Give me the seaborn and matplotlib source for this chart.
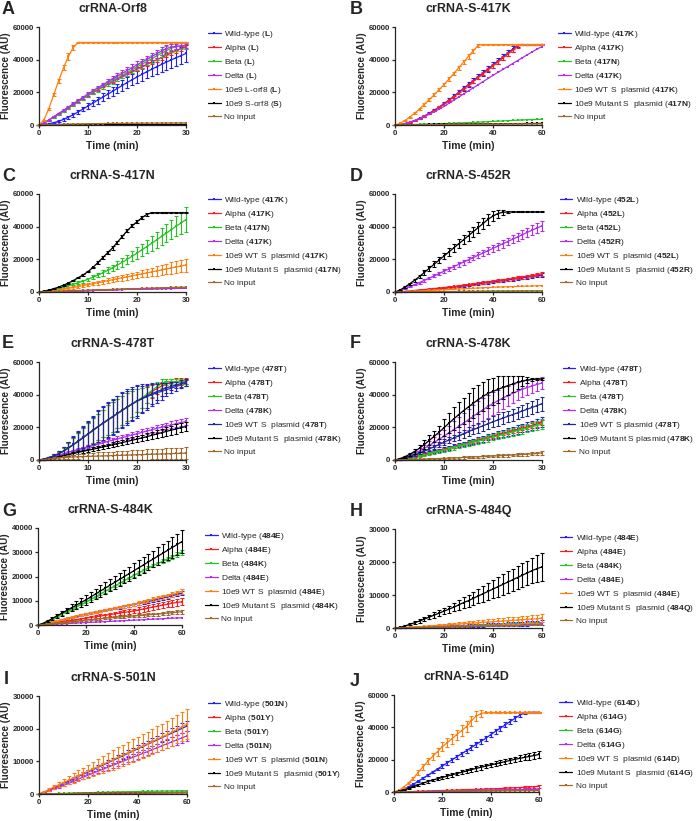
"""Curvas de fluorescencia (10 paneles crRNA) -> out.png"""
import matplotlib
matplotlib.use("Agg")
import matplotlib.pyplot as plt
import numpy as np
import seaborn as sns
from matplotlib.ticker import StrMethodFormatter

# ---------------------------------------------------------------- data
# times (min)
T30 = list(range(0, 31))
T60 = list(range(0, 61, 2))

# all fluorescence values below in thousands of AU (mean, SD)
# --- A: crRNA-Orf8
A_WT = [0, 0.2, 0.7, 1.4, 2.3, 3.4, 4.8, 6.3, 8.0, 9.8, 11.6, 13.4, 15.2, 17.0, 18.8, 20.6, 22.4, 24.2, 26.0, 27.7, 29.4, 31.0, 32.6, 34.1, 35.6, 37.1, 38.5, 39.9, 41.2, 42.5, 43.8]
A_WT_SD = [0, 0.1, 0.2, 0.3, 0.5, 0.7, 0.9, 1.1, 1.3, 1.5, 1.7, 1.9, 2.1, 2.3, 2.5, 2.7, 2.9, 3.1, 3.3, 3.5, 3.7, 3.9, 4.1, 4.3, 4.5, 4.6, 4.7, 4.8, 4.9, 5.0, 5.0]
A_ALPHA = [0, 1.2, 3.0, 4.9, 6.8, 8.7, 10.6, 12.5, 14.4, 16.2, 18.0, 19.8, 21.5, 23.2, 24.9, 26.5, 28.1, 29.7, 31.2, 32.7, 34.2, 35.7, 37.1, 38.5, 39.9, 41.3, 42.7, 44.1, 45.5, 46.8, 48.0]
A_ALPHA_SD = [0, 0.2, 0.3, 0.4, 0.5, 0.5, 0.6, 0.6, 0.7, 0.7, 0.8, 0.8, 0.9, 0.9, 1.0, 1.0, 1.0, 1.1, 1.1, 1.1, 1.2, 1.2, 1.2, 1.2, 1.3, 1.3, 1.3, 1.3, 1.3, 1.3, 1.3]
A_BETA = [0, 1.2, 3.0, 4.9, 6.8, 8.7, 10.6, 12.5, 14.4, 16.3, 18.2, 20.0, 21.8, 23.6, 25.3, 27.0, 28.7, 30.4, 32.1, 33.8, 35.5, 37.2, 38.9, 40.6, 42.3, 44.0, 45.6, 47.0, 48.0, 48.5, 48.6]
A_BETA_SD = [0, 0.2, 0.3, 0.4, 0.5, 0.6, 0.7, 0.8, 0.9, 1.0, 1.1, 1.2, 1.3, 1.4, 1.5, 1.6, 1.7, 1.8, 1.9, 2.0, 2.1, 2.2, 2.3, 2.4, 2.5, 2.6, 2.6, 2.5, 2.4, 2.2, 2.0]
A_DELTA = [0, 1.2, 3.0, 5.0, 7.0, 9.0, 11.0, 13.0, 15.0, 17.0, 19.0, 20.9, 22.8, 24.6, 26.4, 28.2, 30.0, 31.7, 33.4, 35.1, 36.8, 38.5, 40.2, 41.9, 43.6, 45.3, 46.8, 47.8, 48.2, 48.4, 48.5]
A_DELTA_SD = [0, 0.2, 0.3, 0.4, 0.5, 0.6, 0.7, 0.8, 0.9, 1.0, 1.1, 1.2, 1.3, 1.4, 1.5, 1.6, 1.7, 1.8, 1.9, 2.0, 2.1, 2.2, 2.3, 2.3, 2.3, 2.2, 2.0, 1.8, 1.6, 1.5, 1.4]
A_LORF = [0, 3.0, 10.0, 18.5, 27.0, 35.0, 42.0, 47.5, 50.5, 50.5, 50.5, 50.5, 50.5, 50.5, 50.5, 50.5, 50.5, 50.5, 50.5, 50.5, 50.5, 50.5, 50.5, 50.5, 50.5, 50.5, 50.5, 50.5, 50.5, 50.5, 50.5]
A_LORF_SD = [0, 0.3, 0.6, 0.8, 1.0, 1.5, 2.0, 1.5, 0.5, 0.3, 0.3, 0.3, 0.3, 0.3, 0.3, 0.3, 0.3, 0.3, 0.3, 0.3, 0.3, 0.3, 0.3, 0.3, 0.3, 0.3, 0.3, 0.3, 0.3, 0.3, 0.3]
A_SORF = [0, 0.05, 0.1, 0.1, 0.1, 0.15, 0.15, 0.15, 0.2, 0.2, 0.2, 0.2, 0.2, 0.25, 0.25, 0.25, 0.25, 0.25, 0.3, 0.3, 0.3, 0.3, 0.3, 0.3, 0.3, 0.35, 0.35, 0.35, 0.35, 0.35, 0.35]
A_NONE = [0, 0.1, 0.2, 0.3, 0.4, 0.5, 0.55, 0.6, 0.65, 0.7, 0.75, 0.8, 0.85, 0.9, 0.95, 1.0, 1.0, 1.05, 1.05, 1.1, 1.1, 1.15, 1.15, 1.2, 1.2, 1.2, 1.25, 1.25, 1.25, 1.3, 1.3]

# --- B: crRNA-S-417K
B_WT = [0, 0.3, 0.8, 1.6, 2.7, 4.0, 5.5, 7.2, 9.0, 11.0, 13.0, 15.3, 17.6, 20.0, 22.4, 24.8, 27.2, 29.6, 32.0, 34.4, 36.8, 39.2, 41.6, 44.0, 46.4, 48.6, 49.2, 49.2, 49.2, 49.2, 49.2]
B_WT_SD = [0, 0.1, 0.1, 0.2, 0.3, 0.4, 0.5, 0.6, 0.7, 0.8, 0.9, 1.0, 1.1, 1.2, 1.3, 1.4, 1.5, 1.6, 1.7, 1.8, 1.9, 2.0, 2.0, 2.0, 1.8, 1.0, 0.4, 0.3, 0.3, 0.3, 0.3]
B_ALPHA = [0, 0.3, 0.8, 1.6, 2.6, 3.9, 5.4, 7.0, 8.8, 10.8, 12.8, 15.0, 17.3, 19.6, 22.0, 24.4, 26.8, 29.2, 31.5, 33.8, 36.2, 38.6, 41.0, 43.4, 45.8, 48.2, 49.2, 49.2, 49.2, 49.2, 49.2]
B_ALPHA_SD = [0, 0.1, 0.1, 0.2, 0.2, 0.3, 0.3, 0.4, 0.4, 0.5, 0.5, 0.6, 0.6, 0.7, 0.7, 0.8, 0.8, 0.9, 0.9, 1.0, 1.0, 1.0, 1.0, 1.0, 1.0, 0.8, 0.3, 0.3, 0.3, 0.3, 0.3]
B_BETA = [0, 0.05, 0.1, 0.2, 0.3, 0.4, 0.5, 0.6, 0.7, 0.8, 0.9, 1.0, 1.1, 1.2, 1.3, 1.45, 1.6, 1.75, 1.9, 2.05, 2.2, 2.35, 2.5, 2.65, 2.8, 2.95, 3.1, 3.2, 3.3, 3.4, 3.5]
B_DELTA = [0, 0.3, 0.9, 1.7, 2.7, 3.9, 5.2, 6.6, 8.1, 9.7, 11.4, 13.3, 15.2, 17.1, 19.0, 20.9, 22.8, 24.7, 26.6, 28.5, 30.4, 32.2, 34.0, 35.8, 37.6, 39.4, 41.2, 43.0, 44.8, 46.5, 48.0]
B_WTP = [0, 1.0, 2.7, 4.8, 7.2, 9.8, 12.6, 15.5, 18.5, 21.6, 24.8, 28.1, 31.5, 35.0, 38.5, 42.0, 45.5, 48.8, 49.2, 49.2, 49.2, 49.2, 49.2, 49.2, 49.2, 49.2, 49.2, 49.2, 49.2, 49.2, 49.2]
B_WTP_SD = [0, 0.2, 0.3, 0.4, 0.5, 0.6, 0.7, 0.8, 0.9, 1.0, 1.0, 1.1, 1.1, 1.2, 1.2, 1.3, 1.3, 1.0, 0.3, 0.3, 0.3, 0.3, 0.3, 0.3, 0.3, 0.3, 0.3, 0.3, 0.3, 0.3, 0.3]
B_MUTP = [0, 0.05, 0.1, 0.15, 0.2, 0.25, 0.3, 0.35, 0.4, 0.45, 0.5, 0.55, 0.6, 0.62, 0.65, 0.68, 0.7, 0.72, 0.74, 0.76, 0.78, 0.8, 0.82, 0.84, 0.86, 0.88, 0.9, 0.92, 0.94, 0.96, 0.98]
B_NONE = [0, 0.05, 0.1, 0.12, 0.15, 0.18, 0.2, 0.22, 0.25, 0.28, 0.3, 0.32, 0.35, 0.38, 0.4, 0.42, 0.44, 0.46, 0.48, 0.5, 0.52, 0.54, 0.56, 0.58, 0.6, 0.62, 0.64, 0.66, 0.68, 0.7, 0.72]

# --- C: crRNA-S-417N
C_WT = [0, 0.05, 0.1, 0.2, 0.3, 0.4, 0.5, 0.6, 0.7, 0.8, 0.9, 1.0, 1.1, 1.2, 1.3, 1.4, 1.5, 1.6, 1.7, 1.8, 1.9, 2.0, 2.05, 2.1, 2.15, 2.2, 2.25, 2.3, 2.35, 2.4, 2.5]
C_ALPHA = [0, 0.05, 0.1, 0.15, 0.25, 0.35, 0.45, 0.55, 0.65, 0.75, 0.85, 0.95, 1.05, 1.15, 1.25, 1.35, 1.45, 1.55, 1.65, 1.75, 1.85, 1.9, 1.95, 2.0, 2.05, 2.1, 2.15, 2.2, 2.25, 2.3, 2.35]
C_BETA = [0, 0.3, 0.8, 1.4, 2.1, 2.9, 3.8, 4.7, 5.7, 6.7, 7.8, 9.0, 10.3, 11.7, 13.2, 14.8, 16.5, 18.2, 20.0, 21.9, 23.8, 25.8, 27.8, 29.8, 31.9, 34.0, 36.1, 38.2, 40.3, 42.3, 44.3]
C_BETA_SD = [0, 0.1, 0.2, 0.3, 0.4, 0.5, 0.6, 0.7, 0.8, 0.9, 1.0, 1.2, 1.4, 1.6, 1.8, 2.0, 2.3, 2.6, 2.9, 3.2, 3.5, 3.8, 4.1, 4.4, 4.7, 5.0, 5.4, 5.8, 6.2, 6.8, 7.5]
C_DELTA = [0, 0.05, 0.1, 0.15, 0.2, 0.3, 0.4, 0.5, 0.6, 0.7, 0.8, 0.9, 1.0, 1.1, 1.2, 1.3, 1.4, 1.5, 1.6, 1.7, 1.75, 1.8, 1.85, 1.9, 1.95, 2.0, 2.05, 2.1, 2.15, 2.2, 2.25]
C_WTP = [0, 0.2, 0.5, 0.9, 1.3, 1.8, 2.3, 2.8, 3.3, 3.9, 4.5, 5.1, 5.7, 6.3, 6.9, 7.5, 8.1, 8.7, 9.3, 9.9, 10.5, 11.1, 11.7, 12.3, 12.9, 13.5, 14.1, 14.7, 15.3, 15.9, 16.5]
C_WTP_SD = [0, 0.1, 0.2, 0.3, 0.4, 0.5, 0.6, 0.7, 0.8, 0.9, 1.0, 1.1, 1.2, 1.3, 1.4, 1.5, 1.6, 1.7, 1.8, 1.9, 2.0, 2.2, 2.4, 2.6, 2.8, 3.0, 3.2, 3.4, 3.6, 3.8, 4.0]
C_MUTP = [0, 0.5, 1.2, 2.0, 3.0, 4.2, 5.5, 7.0, 8.7, 10.5, 12.5, 15.0, 18.0, 21.0, 24.0, 27.0, 30.5, 34.0, 37.5, 40.5, 43.0, 45.5, 47.5, 48.5, 48.5, 48.5, 48.5, 48.5, 48.5, 48.5, 48.5]
C_MUTP_SD = [0, 0.1, 0.1, 0.2, 0.2, 0.3, 0.3, 0.4, 0.4, 0.5, 0.5, 0.6, 0.7, 0.8, 0.9, 1.0, 1.0, 1.0, 1.0, 1.0, 1.0, 0.9, 0.7, 0.4, 0.2, 0.2, 0.2, 0.2, 0.2, 0.2, 0.2]
C_NONE = [0, 0.1, 0.2, 0.3, 0.45, 0.6, 0.7, 0.8, 0.9, 1.0, 1.1, 1.2, 1.3, 1.4, 1.5, 1.6, 1.7, 1.8, 1.9, 2.0, 2.1, 2.2, 2.3, 2.4, 2.5, 2.6, 2.7, 2.8, 2.85, 2.9, 3.0]

# --- D: crRNA-S-452R
D_WT = [0, 0.1, 0.3, 0.5, 0.8, 1.0, 1.3, 1.6, 1.9, 2.2, 2.5, 2.8, 3.1, 3.4, 3.8, 4.2, 4.6, 5.0, 5.4, 5.8, 6.2, 6.6, 7.0, 7.4, 7.8, 8.2, 8.7, 9.1, 9.5, 10.0, 10.4]
D_WT_SD = [0, 0.05, 0.1, 0.1, 0.15, 0.2, 0.2, 0.25, 0.3, 0.3, 0.35, 0.4, 0.4, 0.45, 0.5, 0.5, 0.55, 0.6, 0.6, 0.65, 0.7, 0.7, 0.75, 0.8, 0.8, 0.85, 0.9, 0.9, 0.95, 1.0, 1.0]
D_ALPHA = [0, 0.1, 0.3, 0.6, 0.9, 1.2, 1.5, 1.8, 2.1, 2.4, 2.7, 3.0, 3.4, 3.8, 4.2, 4.6, 5.0, 5.4, 5.8, 6.2, 6.6, 7.0, 7.4, 7.8, 8.2, 8.6, 9.1, 9.6, 10.0, 10.5, 11.0]
D_ALPHA_SD = [0, 0.05, 0.1, 0.15, 0.2, 0.2, 0.25, 0.3, 0.3, 0.35, 0.4, 0.4, 0.45, 0.5, 0.5, 0.55, 0.6, 0.6, 0.65, 0.7, 0.7, 0.75, 0.8, 0.8, 0.85, 0.9, 0.9, 0.95, 1.0, 1.0, 1.1]
D_BETA = [0, 0.02, 0.05, 0.08, 0.1, 0.12, 0.15, 0.18, 0.2, 0.22, 0.25, 0.28, 0.3, 0.32, 0.35, 0.38, 0.4, 0.42, 0.45, 0.48, 0.5, 0.52, 0.55, 0.58, 0.6, 0.62, 0.65, 0.68, 0.7, 0.72, 0.75]
D_DELTA = [0, 0.8, 2.0, 3.2, 4.5, 5.8, 7.1, 8.5, 9.9, 11.3, 12.7, 14.1, 15.5, 16.9, 18.3, 19.7, 21.1, 22.5, 23.9, 25.3, 26.7, 28.1, 29.5, 30.9, 32.3, 33.7, 35.1, 36.5, 37.9, 39.2, 40.5]
D_DELTA_SD = [0, 0.2, 0.3, 0.4, 0.5, 0.6, 0.7, 0.8, 0.9, 1.0, 1.1, 1.2, 1.3, 1.4, 1.5, 1.6, 1.7, 1.8, 1.9, 2.0, 2.1, 2.2, 2.3, 2.4, 2.5, 2.6, 2.7, 2.8, 2.9, 3.0, 3.1]
D_WTP = [0, 0.1, 0.2, 0.35, 0.5, 0.65, 0.8, 0.95, 1.1, 1.25, 1.4, 1.55, 1.7, 1.85, 2.0, 2.15, 2.3, 2.45, 2.6, 2.75, 2.9, 3.0, 3.1, 3.2, 3.3, 3.4, 3.5, 3.6, 3.7, 3.8, 3.9]
D_MUTP = [0, 1.2, 3.0, 5.0, 7.2, 9.5, 12.0, 14.5, 17.0, 19.5, 22.0, 24.5, 27.0, 29.5, 32.0, 34.5, 37.0, 39.5, 42.0, 44.5, 46.5, 48.0, 48.8, 49.0, 49.0, 49.0, 49.0, 49.0, 49.0, 49.0, 49.0]
D_MUTP_SD = [0, 0.3, 0.5, 0.7, 0.9, 1.1, 1.3, 1.5, 1.7, 1.9, 2.1, 2.3, 2.5, 2.7, 2.9, 3.0, 3.1, 3.2, 3.2, 3.2, 3.0, 2.5, 1.5, 0.6, 0.3, 0.3, 0.3, 0.3, 0.3, 0.3, 0.3]
D_NONE = [0, 0.02, 0.05, 0.08, 0.1, 0.12, 0.15, 0.18, 0.2, 0.22, 0.25, 0.27, 0.3, 0.32, 0.34, 0.36, 0.38, 0.4, 0.42, 0.44, 0.46, 0.48, 0.5, 0.52, 0.54, 0.56, 0.58, 0.6, 0.62, 0.64, 0.66]

# --- E: crRNA-S-478T
E_WT = [0, 0.5, 1.5, 2.5, 3.8, 5.5, 7.5, 9.5, 11.5, 13.8, 16.0, 18.2, 20.4, 22.4, 24.4, 26.4, 28.4, 30.4, 32.4, 34.3, 36.0, 37.5, 38.8, 40.0, 41.0, 42.0, 43.0, 44.0, 45.0, 46.0, 47.0]
E_WT_SD = [0, 0.2, 0.5, 1.0, 1.5, 2.5, 3.5, 5.0, 6.0, 7.0, 8.0, 9.0, 10.0, 10.5, 11.0, 11.0, 11.0, 11.0, 11.0, 10.5, 10.0, 9.0, 8.0, 7.0, 6.0, 5.0, 4.0, 3.0, 2.5, 2.0, 2.0]
E_ALPHA = [0, 0.5, 1.4, 2.5, 3.8, 5.4, 7.4, 9.4, 11.5, 13.7, 15.9, 18.1, 20.3, 22.4, 24.4, 26.4, 28.4, 30.4, 32.4, 34.4, 36.3, 37.8, 39.8, 41.8, 43.6, 45.2, 46.5, 47.5, 48.0, 48.2, 48.3]
E_ALPHA_SD = [0, 0.2, 0.4, 0.8, 1.2, 2.0, 3.0, 4.0, 5.0, 6.0, 7.0, 7.5, 8.0, 8.5, 9.0, 9.0, 9.0, 9.0, 8.5, 8.0, 7.0, 6.0, 5.0, 4.0, 3.0, 2.5, 2.0, 2.0, 2.0, 2.0, 2.0]
E_BETA = [0, 0.5, 1.4, 2.5, 3.8, 5.4, 7.4, 9.4, 11.5, 13.7, 15.9, 18.1, 20.3, 22.4, 24.4, 26.4, 28.4, 30.4, 32.4, 34.4, 36.4, 38.0, 40.2, 42.5, 44.8, 46.8, 47.8, 48.0, 48.0, 48.0, 48.0]
E_BETA_SD = [0, 0.2, 0.4, 0.8, 1.2, 2.0, 3.0, 4.0, 5.0, 6.0, 7.0, 7.5, 8.0, 8.5, 9.0, 9.0, 9.0, 9.0, 8.5, 8.0, 7.0, 6.0, 5.0, 4.0, 3.0, 2.5, 2.0, 1.5, 1.5, 1.5, 1.5]
E_DELTA = [0, 0.5, 1.2, 2.0, 2.9, 3.8, 4.7, 5.6, 6.5, 7.3, 8.1, 8.9, 9.7, 10.5, 11.3, 12.1, 12.9, 13.7, 14.5, 15.3, 16.1, 16.9, 17.7, 18.5, 19.3, 20.1, 20.8, 21.5, 22.2, 22.9, 23.6]
E_DELTA_SD = [0, 0.1, 0.2, 0.3, 0.4, 0.5, 0.6, 0.7, 0.8, 0.9, 1.0, 1.1, 1.2, 1.3, 1.4, 1.5, 1.5, 1.6, 1.6, 1.7, 1.7, 1.8, 1.8, 1.9, 1.9, 2.0, 2.0, 2.1, 2.1, 2.2, 2.2]
E_WTP = [0, 0.5, 1.4, 2.5, 3.8, 5.4, 7.3, 9.4, 11.5, 13.7, 15.9, 18.1, 20.3, 22.4, 24.5, 26.5, 28.5, 30.5, 32.4, 34.2, 36.0, 37.6, 39.1, 40.5, 41.8, 43.0, 44.1, 45.1, 46.0, 46.8, 47.5]
E_WTP_SD = [0, 0.2, 0.5, 1.0, 1.5, 2.5, 3.5, 4.5, 5.5, 6.5, 7.5, 8.5, 9.5, 10.0, 10.5, 10.5, 10.5, 10.5, 10.0, 9.5, 9.0, 8.0, 7.0, 6.0, 5.0, 4.0, 3.0, 2.5, 2.0, 2.0, 2.0]
E_MUTP = [0, 0.3, 0.8, 1.4, 2.0, 2.7, 3.3, 4.0, 4.7, 5.3, 6.0, 6.6, 7.3, 8.0, 8.6, 9.3, 10.0, 10.7, 11.4, 12.1, 12.8, 13.5, 14.3, 15.1, 15.9, 16.7, 17.5, 18.3, 19.0, 19.8, 20.5]
E_MUTP_SD = [0, 0.1, 0.2, 0.3, 0.4, 0.5, 0.6, 0.7, 0.8, 0.9, 1.0, 1.1, 1.2, 1.3, 1.4, 1.5, 1.6, 1.7, 1.8, 1.9, 2.0, 2.1, 2.2, 2.3, 2.4, 2.5, 2.6, 2.7, 2.8, 2.9, 3.0]
E_NONE = [0, 0.3, 0.7, 1.0, 1.3, 1.5, 1.7, 1.9, 2.0, 2.1, 2.2, 2.3, 2.4, 2.5, 2.6, 2.7, 2.8, 2.9, 3.0, 3.1, 3.2, 3.3, 3.4, 3.5, 3.6, 3.7, 3.8, 3.9, 4.0, 4.1, 4.2]
E_NONE_SD = [0, 0.2, 0.4, 0.6, 0.8, 1.0, 1.2, 1.4, 1.6, 1.8, 2.0, 2.1, 2.2, 2.3, 2.4, 2.5, 2.6, 2.7, 2.8, 2.9, 3.0, 3.0, 3.1, 3.1, 3.2, 3.2, 3.3, 3.3, 3.4, 3.4, 3.5]

# --- F: crRNA-S-478K
F_WT = [0, 0.3, 0.8, 1.4, 2.1, 2.8, 3.5, 4.3, 5.1, 5.9, 6.7, 7.5, 8.3, 9.1, 9.9, 10.7, 11.5, 12.3, 13.1, 13.9, 14.7, 15.5, 16.3, 17.1, 17.9, 18.7, 19.5, 20.3, 21.1, 22.3, 23.5]
F_WT_SD = [0, 0.1, 0.2, 0.3, 0.4, 0.5, 0.6, 0.7, 0.8, 0.9, 1.0, 1.1, 1.2, 1.3, 1.4, 1.5, 1.6, 1.7, 1.8, 1.9, 2.0, 2.1, 2.2, 2.3, 2.4, 2.5, 2.6, 2.7, 2.8, 2.9, 3.0]
F_ALPHA = [0, 0.3, 0.8, 1.4, 2.0, 2.7, 3.4, 4.2, 5.0, 5.8, 6.6, 7.4, 8.2, 9.0, 9.8, 10.6, 11.4, 12.2, 13.0, 13.8, 14.6, 15.4, 16.2, 17.0, 17.8, 18.6, 19.4, 20.2, 21.0, 22.0, 23.0]
F_ALPHA_SD = [0, 0.1, 0.1, 0.2, 0.2, 0.3, 0.3, 0.4, 0.4, 0.5, 0.5, 0.6, 0.6, 0.7, 0.7, 0.8, 0.8, 0.9, 0.9, 1.0, 1.0, 1.1, 1.1, 1.2, 1.2, 1.3, 1.3, 1.4, 1.4, 1.5, 1.5]
F_BETA = [0, 0.3, 0.7, 1.2, 1.8, 2.5, 3.2, 3.9, 4.6, 5.3, 6.0, 6.8, 7.6, 8.4, 9.2, 10.0, 10.8, 11.6, 12.4, 13.2, 14.0, 14.8, 15.6, 16.4, 17.2, 18.0, 18.8, 19.6, 20.4, 21.2, 22.0]
F_BETA_SD = [0, 0.1, 0.2, 0.3, 0.4, 0.5, 0.6, 0.7, 0.8, 0.9, 1.0, 1.1, 1.2, 1.3, 1.4, 1.5, 1.6, 1.7, 1.8, 1.9, 2.0, 2.1, 2.2, 2.3, 2.4, 2.5, 2.6, 2.7, 2.8, 2.9, 3.0]
F_DELTA = [0, 0.6, 1.5, 2.6, 4.0, 5.5, 7.2, 9.0, 10.8, 12.7, 14.6, 16.6, 18.6, 20.6, 22.6, 24.7, 26.8, 28.9, 30.9, 32.8, 34.6, 36.3, 37.9, 39.4, 40.8, 42.1, 43.3, 44.4, 45.4, 46.3, 47.1]
F_DELTA_SD = [0, 0.3, 0.6, 1.0, 1.4, 1.8, 2.2, 2.6, 3.0, 3.5, 4.0, 4.5, 5.0, 5.5, 6.0, 6.5, 7.0, 7.0, 7.0, 7.0, 7.0, 6.8, 6.5, 6.2, 5.8, 5.4, 5.0, 4.6, 4.2, 3.8, 3.5]
F_WTP = [0, 0.5, 1.3, 2.2, 3.2, 4.3, 5.5, 6.8, 8.1, 9.5, 10.9, 12.2, 13.5, 14.8, 16.1, 17.4, 18.6, 19.8, 21.0, 22.2, 23.4, 24.5, 25.6, 26.7, 27.8, 28.9, 30.0, 31.1, 32.2, 33.3, 34.5]
F_WTP_SD = [0, 0.1, 0.2, 0.3, 0.5, 0.7, 0.9, 1.1, 1.3, 1.5, 1.7, 1.9, 2.1, 2.3, 2.5, 2.7, 2.9, 3.0, 3.1, 3.2, 3.3, 3.4, 3.5, 3.6, 3.7, 3.8, 3.9, 4.0, 4.1, 4.2, 4.3]
F_MUTP = [0, 0.8, 2.0, 3.5, 5.2, 7.2, 9.5, 12.0, 14.5, 17.0, 19.8, 22.5, 25.2, 27.8, 30.2, 32.5, 34.8, 37.0, 39.0, 40.8, 42.0, 43.2, 44.4, 45.5, 46.5, 47.5, 48.3, 49.0, 49.3, 49.5, 49.5]
F_MUTP_SD = [0, 0.3, 0.6, 1.0, 1.5, 2.0, 2.5, 3.0, 3.5, 4.0, 5.0, 6.0, 7.0, 7.5, 8.0, 8.5, 9.0, 9.0, 9.0, 8.8, 8.5, 8.0, 7.0, 6.0, 5.0, 4.0, 3.0, 2.0, 1.0, 0.8, 0.8]
F_NONE = [0, 0.1, 0.2, 0.3, 0.4, 0.5, 0.6, 0.7, 0.8, 0.9, 1.0, 1.1, 1.25, 1.4, 1.55, 1.7, 1.85, 2.0, 2.15, 2.3, 2.45, 2.6, 2.75, 2.9, 3.05, 3.2, 3.4, 3.6, 3.8, 4.0, 4.3]
F_NONE_SD = [0, 0.05, 0.1, 0.15, 0.2, 0.25, 0.3, 0.35, 0.4, 0.45, 0.5, 0.55, 0.6, 0.6, 0.65, 0.65, 0.7, 0.7, 0.75, 0.75, 0.8, 0.8, 0.85, 0.85, 0.9, 0.9, 0.95, 0.95, 1.0, 1.0, 1.0]

# --- G: crRNA-S-484K
G_WT = [0, 0.3, 0.7, 1.1, 1.6, 2.1, 2.6, 3.1, 3.6, 4.1, 4.5, 4.9, 5.3, 5.7, 6.1, 6.5, 6.9, 7.3, 7.7, 8.1, 8.5, 8.9, 9.3, 9.7, 10.1, 10.6, 11.1, 11.6, 12.1, 12.6, 13.1]
G_WT_SD = [0, 0.05, 0.1, 0.1, 0.15, 0.2, 0.2, 0.25, 0.3, 0.3, 0.35, 0.4, 0.4, 0.45, 0.5, 0.5, 0.5, 0.55, 0.55, 0.6, 0.6, 0.6, 0.65, 0.65, 0.7, 0.7, 0.7, 0.75, 0.75, 0.8, 0.8]
G_ALPHA = [0, 0.15, 0.4, 0.7, 1.0, 1.3, 1.6, 1.9, 2.2, 2.5, 2.8, 3.1, 3.4, 3.7, 4.0, 4.3, 4.6, 4.9, 5.2, 5.5, 5.8, 6.2, 6.6, 7.0, 7.4, 7.8, 8.2, 8.6, 9.0, 9.3, 9.6]
G_ALPHA_SD = [0, 0.05, 0.1, 0.15, 0.2, 0.25, 0.3, 0.35, 0.4, 0.45, 0.5, 0.55, 0.6, 0.65, 0.7, 0.75, 0.8, 0.85, 0.9, 0.95, 1.0, 1.05, 1.1, 1.15, 1.2, 1.25, 1.3, 1.35, 1.4, 1.45, 1.5]
G_BETA = [0, 0.6, 1.5, 2.5, 3.5, 4.5, 5.5, 6.5, 7.5, 8.5, 9.5, 10.6, 11.7, 12.8, 13.9, 15.0, 16.1, 17.2, 18.3, 19.4, 20.5, 21.5, 22.5, 23.5, 24.5, 25.4, 26.3, 27.2, 28.1, 29.0, 30.0]
G_BETA_SD = [0, 0.05, 0.1, 0.15, 0.2, 0.25, 0.3, 0.3, 0.35, 0.35, 0.4, 0.4, 0.45, 0.45, 0.5, 0.5, 0.55, 0.55, 0.6, 0.6, 0.65, 0.65, 0.7, 0.7, 0.75, 0.75, 0.8, 0.8, 0.85, 0.9, 1.0]
G_DELTA = [0, 0.1, 0.2, 0.3, 0.4, 0.5, 0.6, 0.7, 0.8, 0.9, 1.0, 1.1, 1.2, 1.3, 1.4, 1.5, 1.6, 1.7, 1.8, 1.9, 2.0, 2.1, 2.2, 2.3, 2.4, 2.5, 2.6, 2.7, 2.8, 2.9, 3.0]
G_WTP = [0, 0.3, 0.7, 1.2, 1.7, 2.2, 2.7, 3.2, 3.7, 4.2, 4.6, 5.0, 5.4, 5.8, 6.2, 6.6, 7.0, 7.4, 7.8, 8.2, 8.6, 9.1, 9.6, 10.1, 10.6, 11.1, 11.6, 12.1, 12.6, 13.2, 13.8]
G_WTP_SD = [0, 0.05, 0.1, 0.15, 0.2, 0.25, 0.3, 0.3, 0.35, 0.35, 0.4, 0.4, 0.45, 0.45, 0.5, 0.5, 0.55, 0.55, 0.6, 0.6, 0.65, 0.65, 0.7, 0.7, 0.75, 0.75, 0.8, 0.8, 0.85, 0.85, 0.9]
G_MUTP = [0, 0.6, 1.6, 2.7, 3.8, 4.9, 6.0, 7.1, 8.2, 9.3, 10.4, 11.6, 12.8, 14.0, 15.2, 16.4, 17.6, 18.8, 20.0, 21.2, 22.4, 23.6, 24.8, 26.0, 27.2, 28.4, 29.6, 30.8, 32.0, 33.2, 34.4]
G_MUTP_SD = [0, 0.2, 0.4, 0.6, 0.8, 1.0, 1.2, 1.4, 1.6, 1.8, 2.0, 2.1, 2.2, 2.3, 2.4, 2.5, 2.6, 2.7, 2.8, 2.9, 3.0, 3.1, 3.2, 3.3, 3.4, 3.6, 3.8, 4.0, 4.2, 4.4, 4.6]
G_NONE = [0, 0.2, 0.4, 0.6, 0.8, 1.0, 1.2, 1.4, 1.6, 1.8, 2.0, 2.2, 2.4, 2.6, 2.8, 3.0, 3.15, 3.3, 3.45, 3.6, 3.75, 3.9, 4.05, 4.2, 4.35, 4.5, 4.7, 4.9, 5.1, 5.3, 5.5]
G_NONE_SD = [0, 0.05, 0.1, 0.1, 0.15, 0.15, 0.2, 0.2, 0.25, 0.25, 0.3, 0.3, 0.35, 0.35, 0.4, 0.4, 0.45, 0.45, 0.5, 0.5, 0.55, 0.55, 0.6, 0.6, 0.65, 0.65, 0.7, 0.7, 0.75, 0.75, 0.8]

# --- H: crRNA-S-484Q
H_WT = [0, 0.05, 0.1, 0.15, 0.2, 0.25, 0.3, 0.35, 0.4, 0.45, 0.5, 0.55, 0.6, 0.65, 0.7, 0.75, 0.8, 0.85, 0.9, 0.95, 1.0, 1.05, 1.1, 1.15, 1.2, 1.25, 1.3, 1.4, 1.5, 1.55, 1.6]
H_WT_SD = [0, 0.02, 0.05, 0.08, 0.1, 0.12, 0.15, 0.18, 0.2, 0.22, 0.25, 0.28, 0.3, 0.32, 0.35, 0.38, 0.4, 0.42, 0.45, 0.48, 0.5, 0.52, 0.55, 0.58, 0.6, 0.62, 0.65, 0.68, 0.7, 0.72, 0.75]
H_ALPHA = [0, 0.04, 0.08, 0.12, 0.16, 0.2, 0.24, 0.28, 0.32, 0.36, 0.4, 0.44, 0.48, 0.52, 0.56, 0.6, 0.64, 0.68, 0.72, 0.76, 0.8, 0.84, 0.88, 0.92, 0.96, 1.0, 1.05, 1.1, 1.15, 1.2, 1.25]
H_BETA = [0, 0.05, 0.1, 0.15, 0.2, 0.25, 0.3, 0.35, 0.4, 0.45, 0.5, 0.55, 0.6, 0.65, 0.7, 0.75, 0.8, 0.85, 0.9, 0.95, 1.0, 1.05, 1.1, 1.15, 1.2, 1.25, 1.3, 1.35, 1.4, 1.45, 1.5]
H_DELTA = [0, 0.03, 0.06, 0.1, 0.14, 0.18, 0.22, 0.26, 0.3, 0.34, 0.38, 0.42, 0.46, 0.5, 0.54, 0.58, 0.62, 0.66, 0.7, 0.74, 0.78, 0.82, 0.86, 0.9, 0.94, 0.98, 1.02, 1.06, 1.1, 1.14, 1.18]
H_WTP = [0, 0.05, 0.1, 0.2, 0.3, 0.4, 0.5, 0.6, 0.7, 0.8, 0.9, 1.0, 1.1, 1.2, 1.3, 1.4, 1.5, 1.6, 1.7, 1.8, 1.9, 2.0, 2.1, 2.2, 2.3, 2.4, 2.5, 2.6, 2.7, 2.8, 3.0]
H_WTP_SD = [0, 0.02, 0.05, 0.08, 0.1, 0.15, 0.2, 0.25, 0.3, 0.35, 0.4, 0.45, 0.5, 0.55, 0.6, 0.65, 0.7, 0.75, 0.8, 0.85, 0.9, 0.95, 1.0, 1.0, 1.05, 1.05, 1.1, 1.1, 1.15, 1.15, 1.2]
H_MUTP = [0, 0.2, 0.6, 1.1, 1.6, 2.1, 2.7, 3.3, 3.9, 4.5, 5.1, 5.7, 6.3, 7.0, 7.7, 8.3, 9.0, 9.7, 10.4, 11.1, 11.8, 12.5, 13.2, 13.9, 14.6, 15.3, 16.0, 16.7, 17.4, 18.0, 18.5]
H_MUTP_SD = [0, 0.1, 0.2, 0.3, 0.4, 0.5, 0.6, 0.7, 0.8, 0.9, 1.0, 1.1, 1.2, 1.4, 1.6, 1.8, 2.0, 2.2, 2.4, 2.6, 2.8, 3.0, 3.2, 3.3, 3.4, 3.5, 3.6, 3.7, 3.8, 4.0, 4.2]
H_NONE = [0, 0.03, 0.06, 0.09, 0.12, 0.15, 0.18, 0.21, 0.24, 0.27, 0.3, 0.33, 0.36, 0.39, 0.42, 0.45, 0.48, 0.51, 0.54, 0.57, 0.6, 0.63, 0.66, 0.69, 0.72, 0.75, 0.78, 0.81, 0.84, 0.87, 0.9]

# --- I: crRNA-S-501N
I_WT = [0, 0.5, 1.2, 1.9, 2.6, 3.3, 4.0, 4.7, 5.4, 6.1, 6.8, 7.5, 8.2, 8.9, 9.6, 10.3, 11.0, 11.7, 12.4, 13.1, 13.8, 14.5, 15.2, 15.9, 16.6, 17.3, 18.0, 18.7, 19.4, 20.1, 20.8]
I_WT_SD = [0, 0.1, 0.15, 0.2, 0.25, 0.3, 0.35, 0.4, 0.45, 0.5, 0.55, 0.6, 0.65, 0.7, 0.75, 0.8, 0.85, 0.9, 0.95, 1.0, 1.05, 1.1, 1.15, 1.2, 1.25, 1.3, 1.35, 1.4, 1.45, 1.5, 1.55]
I_ALPHA = [0, 0.02, 0.04, 0.06, 0.08, 0.1, 0.12, 0.14, 0.16, 0.18, 0.2, 0.22, 0.24, 0.26, 0.28, 0.3, 0.32, 0.34, 0.36, 0.38, 0.4, 0.42, 0.44, 0.46, 0.48, 0.5, 0.52, 0.54, 0.56, 0.58, 0.6]
I_BETA = [0, 0.04, 0.08, 0.12, 0.16, 0.2, 0.24, 0.28, 0.32, 0.36, 0.4, 0.44, 0.48, 0.52, 0.56, 0.6, 0.63, 0.66, 0.69, 0.72, 0.75, 0.78, 0.81, 0.84, 0.87, 0.9, 0.92, 0.94, 0.96, 0.98, 1.0]
I_DELTA = [0, 0.4, 1.0, 1.6, 2.2, 2.8, 3.4, 4.0, 4.6, 5.2, 5.8, 6.4, 7.0, 7.6, 8.2, 8.8, 9.4, 10.0, 10.6, 11.2, 11.8, 12.4, 13.0, 13.6, 14.2, 14.8, 15.4, 16.0, 16.6, 17.2, 17.8]
I_DELTA_SD = [0, 0.1, 0.15, 0.2, 0.25, 0.3, 0.35, 0.4, 0.45, 0.5, 0.55, 0.6, 0.65, 0.7, 0.75, 0.8, 0.85, 0.9, 0.95, 1.0, 1.05, 1.1, 1.15, 1.2, 1.25, 1.3, 1.35, 1.4, 1.45, 1.5, 1.55]
I_WTP = [0, 0.6, 1.4, 2.1, 2.8, 3.5, 4.2, 4.9, 5.6, 6.3, 7.0, 7.7, 8.4, 9.1, 9.8, 10.5, 11.2, 11.9, 12.6, 13.3, 14.0, 14.7, 15.4, 16.1, 16.8, 17.5, 18.2, 19.0, 19.8, 20.6, 21.4]
I_WTP_SD = [0, 0.2, 0.4, 0.6, 0.8, 1.0, 1.2, 1.4, 1.6, 1.8, 2.0, 2.2, 2.4, 2.6, 2.8, 3.0, 3.1, 3.2, 3.3, 3.4, 3.5, 3.6, 3.7, 3.8, 3.9, 4.0, 4.1, 4.2, 4.3, 4.4, 4.5]
I_MUTP = [0, 0.02, 0.04, 0.06, 0.08, 0.1, 0.12, 0.14, 0.16, 0.18, 0.2, 0.21, 0.22, 0.23, 0.24, 0.25, 0.26, 0.27, 0.28, 0.29, 0.3, 0.31, 0.32, 0.33, 0.34, 0.35, 0.36, 0.37, 0.38, 0.39, 0.4]
I_NONE = [0, 0.02, 0.04, 0.06, 0.08, 0.1, 0.12, 0.14, 0.16, 0.18, 0.2, 0.22, 0.24, 0.26, 0.28, 0.3, 0.31, 0.32, 0.33, 0.34, 0.35, 0.36, 0.37, 0.38, 0.39, 0.4, 0.41, 0.42, 0.43, 0.44, 0.45]

# --- J: crRNA-S-614D
J_WT = [0, 0.7, 1.8, 3.2, 4.8, 6.6, 8.5, 10.4, 12.3, 14.2, 16.1, 18.0, 19.9, 21.8, 23.7, 25.6, 27.5, 29.4, 31.3, 33.2, 35.5, 37.5, 39.5, 41.5, 43.5, 45.5, 47.5, 49.0, 49.3, 49.3, 49.3]
J_WT_SD = [0, 0.1, 0.2, 0.3, 0.4, 0.5, 0.6, 0.7, 0.8, 0.9, 1.0, 1.0, 1.1, 1.1, 1.2, 1.2, 1.3, 1.3, 1.4, 1.4, 1.5, 1.5, 1.5, 1.5, 1.5, 1.5, 1.2, 0.6, 0.3, 0.3, 0.3]
J_ALPHA = [0, 0.05, 0.1, 0.2, 0.3, 0.4, 0.5, 0.6, 0.7, 0.8, 0.9, 1.0, 1.1, 1.2, 1.3, 1.4, 1.5, 1.6, 1.7, 1.8, 1.9, 2.0, 2.15, 2.3, 2.45, 2.6, 2.75, 2.9, 3.1, 3.3, 3.5]
J_ALPHA_SD = [0, 0.02, 0.05, 0.08, 0.1, 0.12, 0.15, 0.18, 0.2, 0.22, 0.25, 0.28, 0.3, 0.32, 0.35, 0.38, 0.4, 0.42, 0.45, 0.48, 0.5, 0.52, 0.55, 0.58, 0.6, 0.62, 0.65, 0.68, 0.7, 0.72, 0.75]
J_BETA = [0, 0.03, 0.06, 0.1, 0.15, 0.2, 0.25, 0.3, 0.35, 0.4, 0.45, 0.5, 0.55, 0.6, 0.65, 0.7, 0.75, 0.8, 0.85, 0.9, 0.95, 1.0, 1.05, 1.1, 1.15, 1.2, 1.25, 1.3, 1.35, 1.4, 1.45]
J_DELTA = [0, 0.04, 0.08, 0.12, 0.18, 0.24, 0.3, 0.36, 0.42, 0.48, 0.54, 0.6, 0.66, 0.72, 0.78, 0.84, 0.9, 0.96, 1.02, 1.08, 1.14, 1.2, 1.26, 1.32, 1.38, 1.44, 1.5, 1.56, 1.62, 1.68, 1.74]
J_WTP = [0, 1.0, 3.0, 5.5, 8.5, 12.0, 15.5, 19.0, 22.0, 25.0, 28.0, 30.5, 33.0, 35.5, 38.0, 40.5, 44.0, 47.0, 48.5, 49.2, 49.2, 49.2, 49.2, 49.2, 49.2, 49.2, 49.2, 49.2, 49.2, 49.2, 49.2]
J_WTP_SD = [0, 0.2, 0.4, 0.7, 1.0, 1.3, 1.6, 1.9, 2.2, 2.5, 2.7, 2.9, 3.0, 3.1, 3.2, 3.3, 3.3, 3.2, 2.0, 0.4, 0.3, 0.3, 0.3, 0.3, 0.3, 0.3, 0.3, 0.3, 0.3, 0.3, 0.3]
J_MUTP = [0, 0.4, 1.2, 2.2, 3.3, 4.4, 5.5, 6.5, 7.4, 8.2, 9.0, 9.8, 10.6, 11.4, 12.2, 13.0, 13.8, 14.6, 15.3, 16.0, 16.7, 17.4, 18.1, 18.8, 19.5, 20.2, 20.8, 21.4, 22.0, 22.6, 23.2]
J_MUTP_SD = [0, 0.1, 0.2, 0.3, 0.4, 0.5, 0.6, 0.7, 0.8, 0.9, 1.0, 1.05, 1.1, 1.15, 1.2, 1.25, 1.3, 1.35, 1.4, 1.45, 1.5, 1.55, 1.6, 1.65, 1.7, 1.75, 1.8, 1.85, 1.9, 1.95, 2.0]
J_NONE = [0, 0.02, 0.05, 0.08, 0.1, 0.13, 0.16, 0.19, 0.22, 0.25, 0.28, 0.31, 0.34, 0.37, 0.4, 0.43, 0.46, 0.49, 0.52, 0.55, 0.58, 0.61, 0.64, 0.67, 0.7, 0.73, 0.76, 0.79, 0.82, 0.85, 0.88]

# legend names and alleles
NAMES_ORF8 = ["Wild-type", "Alpha", "Beta", "Delta", "10e9 L-orf8", "10e9 S-orf8", "No input"]
NAMES_S = ["Wild-type", "Alpha", "Beta", "Delta", "10e9 WT S  plasmid", "10e9 Mutant S  plasmid", "No input"]
NAMES_S1 = ["Wild-type", "Alpha", "Beta", "Delta", "10e9 WT S plasmid", "10e9 Mutant S plasmid", "No input"]

# ---------------------------------------------------------------- style
BLUE, RED, GREEN, PURPLE = "#1f1fff", "#ff1a1a", "#22c322", "#b02cf0"
ORANGE, BLACK, BROWN, NAVY = "#ff7f0e", "#000000", "#a0682a", "#1f2a8a"
COLORS = [BLUE, RED, GREEN, PURPLE, ORANGE, BLACK, BROWN]
COLORS_478 = [BLUE, RED, GREEN, PURPLE, NAVY, BLACK, BROWN]

sns.set_style("ticks")
plt.rcParams["font.family"] = ["Liberation Sans", "DejaVu Sans"]
plt.rcParams["mathtext.fontset"] = "custom"
plt.rcParams["mathtext.rm"] = "Liberation Sans"
plt.rcParams["mathtext.bf"] = "Liberation Sans:bold"

W, H = 696, 821

PANELS = [
    dict(letter="A", title="crRNA-Orf8", t=T30, ymax=60000, names=NAMES_ORF8, colors=COLORS,
         alleles=["L", "L", "L", "L", "L", "S", None],
         vals=[A_WT, A_ALPHA, A_BETA, A_DELTA, A_LORF, A_SORF, A_NONE],
         sds=[A_WT_SD, A_ALPHA_SD, A_BETA_SD, A_DELTA_SD, A_LORF_SD, None, None],
         box=(39, 27, 186, 125), lx=1.15, ly=0.98, lpos=(2, 1)),
    dict(letter="B", title="crRNA-S-417K", t=T60, ymax=60000, names=NAMES_S, colors=COLORS,
         alleles=["417K", "417K", "417N", "417K", "417K", "417N", None],
         vals=[B_WT, B_ALPHA, B_BETA, B_DELTA, B_WTP, B_MUTP, B_NONE],
         sds=[B_WT_SD, B_ALPHA_SD, None, None, B_WTP_SD, None, None],
         box=(395, 27, 542, 125), lx=1.11, ly=0.98, lpos=(350, 1)),
    dict(letter="C", title="crRNA-S-417N", t=T30, ymax=60000, names=NAMES_S, colors=COLORS,
         alleles=["417K", "417K", "417N", "417K", "417K", "417N", None],
         vals=[C_WT, C_ALPHA, C_BETA, C_DELTA, C_WTP, C_MUTP, C_NONE],
         sds=[None, None, C_BETA_SD, None, C_WTP_SD, C_MUTP_SD, None],
         box=(39, 194, 186, 292), lx=1.15, ly=0.99, lpos=(2, 168)),
    dict(letter="D", title="crRNA-S-452R", t=T60, ymax=60000, names=NAMES_S, colors=COLORS,
         alleles=["452L", "452L", "452L", "452R", "452L", "452R", None],
         vals=[D_WT, D_ALPHA, D_BETA, D_DELTA, D_WTP, D_MUTP, D_NONE],
         sds=[D_WT_SD, D_ALPHA_SD, None, D_DELTA_SD, None, D_MUTP_SD, None],
         box=(395, 194, 542, 292), lx=1.12, ly=0.99, lpos=(350, 168)),
    dict(letter="E", title="crRNA-S-478T", t=T30, ymax=60000, names=NAMES_S, colors=COLORS_478,
         alleles=["478T", "478T", "478T", "478K", "478T", "478K", None],
         vals=[E_WT, E_ALPHA, E_BETA, E_DELTA, E_WTP, E_MUTP, E_NONE],
         sds=[E_WT_SD, E_ALPHA_SD, E_BETA_SD, E_DELTA_SD, E_WTP_SD, E_MUTP_SD, E_NONE_SD],
         box=(39, 362, 186, 460), lx=1.15, ly=0.98, lpos=(2, 335)),
    dict(letter="F", title="crRNA-S-478K", t=T30, ymax=60000, names=NAMES_S1, colors=COLORS_478,
         alleles=["478T", "478T", "478T", "478K", "478T", "478K", None],
         vals=[F_WT, F_ALPHA, F_BETA, F_DELTA, F_WTP, F_MUTP, F_NONE],
         sds=[F_WT_SD, F_ALPHA_SD, F_BETA_SD, F_DELTA_SD, F_WTP_SD, F_MUTP_SD, F_NONE_SD],
         box=(395, 362, 542, 460), lx=1.14, ly=0.98, lpos=(350, 335)),
    dict(letter="G", title="crRNA-S-484K", t=T60, ymax=40000, names=NAMES_S, colors=COLORS,
         alleles=["484E", "484E", "484K", "484E", "484E", "484K", None],
         vals=[G_WT, G_ALPHA, G_BETA, G_DELTA, G_WTP, G_MUTP, G_NONE],
         sds=[G_WT_SD, G_ALPHA_SD, G_BETA_SD, None, G_WTP_SD, G_MUTP_SD, G_NONE_SD],
         box=(38, 528, 182, 625), lx=1.16, ly=0.97, lpos=(2, 503)),
    dict(letter="H", title="crRNA-S-484Q", t=T60, ymax=30000, names=NAMES_S, colors=COLORS,
         alleles=["484E", "484E", "484K", "484E", "484E", "484Q", None],
         vals=[H_WT, H_ALPHA, H_BETA, H_DELTA, H_WTP, H_MUTP, H_NONE],
         sds=[H_WT_SD, None, None, None, H_WTP_SD, H_MUTP_SD, None],
         box=(395, 529, 542, 628), lx=1.12, ly=0.96, lpos=(350, 503)),
    dict(letter="I", title="crRNA-S-501N", t=T60, ymax=30000, names=NAMES_S, colors=COLORS,
         alleles=["501N", "501Y", "501Y", "501N", "501N", "501Y", None],
         vals=[I_WT, I_ALPHA, I_BETA, I_DELTA, I_WTP, I_MUTP, I_NONE],
         sds=[I_WT_SD, None, None, I_DELTA_SD, I_WTP_SD, None, None],
         box=(39, 696, 187, 794), lx=1.14, ly=0.97, lpos=(4, 671)),
    dict(letter="J", title="crRNA-S-614D", t=T60, ymax=60000, names=NAMES_S, colors=COLORS,
         alleles=["614D", "614G", "614G", "614G", "614D", "614G", None],
         vals=[J_WT, J_ALPHA, J_BETA, J_DELTA, J_WTP, J_MUTP, J_NONE],
         sds=[J_WT_SD, J_ALPHA_SD, None, None, J_WTP_SD, J_MUTP_SD, None],
         box=(394, 695, 539, 792), lx=1.14, ly=0.97, lpos=(350, 673)),
]


def legend_label(name, allele):
    if allele is None:
        return name
    return name + " ($\\mathbf{" + allele + "}$)"


def draw_panel(fig, p):
    l, t, r, b = p["box"]
    ax = fig.add_axes([l / W, 1 - b / H, (r - l) / W, (b - t) / H])
    for name, allele, vals, sd, color in zip(p["names"], p["alleles"], p["vals"],
                                             p["sds"], p["colors"]):
        y = np.asarray(vals) * 1000
        sns.lineplot(x=p["t"], y=y, ax=ax, color=color, linewidth=0.9,
                     marker="s", markersize=2.0, markeredgewidth=0,
                     label=legend_label(name, allele), clip_on=False)
        if sd is not None:
            ax.errorbar(p["t"], y, yerr=np.asarray(sd) * 1000, fmt="none",
                        ecolor=color, elinewidth=0.8, capsize=1.3, capthick=0.8,
                        clip_on=False)

    tmax = p["t"][-1]
    ax.set_xlim(0, tmax)
    ax.set_ylim(0, p["ymax"])
    ax.set_xticks(np.arange(0, tmax + 1, tmax // 3))
    ax.set_yticks(np.arange(0, p["ymax"] + 1, 20000 if p["ymax"] == 60000 else 10000))
    ax.yaxis.set_major_formatter(StrMethodFormatter("{x:.0f}"))
    ax.tick_params(labelsize=5.6, length=2.2, width=0.9, pad=1.2)
    plt.setp(ax.get_xticklabels() + ax.get_yticklabels(), fontweight="bold")
    sns.despine(ax=ax)
    for s in ("left", "bottom"):
        ax.spines[s].set_linewidth(0.9)

    ax.set_xlabel("Time (min)", fontsize=7.5, fontweight="bold", labelpad=3)
    ax.set_ylabel("Fluorescence (AU)", fontsize=7.0, fontweight="bold", labelpad=1.5)
    ax.set_title(p["title"], fontsize=9, fontweight="bold", pad=10.5)

    ax.legend(loc="upper left", bbox_to_anchor=(p["lx"], p["ly"]), frameon=False,
              fontsize=6, handlelength=1.5, handletextpad=0.45, labelspacing=0.36,
              borderpad=0, borderaxespad=0)

    fig.text(p["lpos"][0] / W, 1 - p["lpos"][1] / H, p["letter"], fontsize=13,
             fontweight="bold", ha="left", va="top")


fig = plt.figure(figsize=(W / 100, H / 100), dpi=100)
for panel in PANELS:
    draw_panel(fig, panel)
fig.savefig("out.png", dpi=100)
